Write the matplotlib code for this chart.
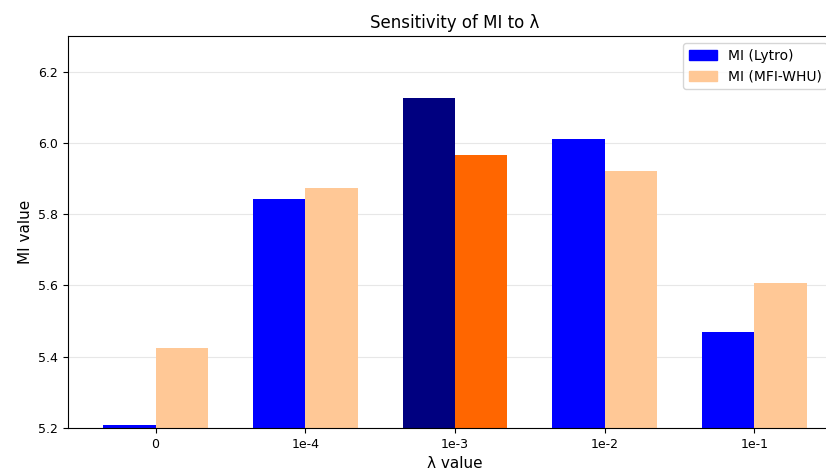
import matplotlib.pyplot as plt
import numpy as np
from matplotlib.patches import Patch

# lambda settings and MI scores for the two datasets
lambdas = ['0', '1e-4', '1e-3', '1e-2', '1e-1']
mi_lytro = [5.209, 5.842, 6.126, 6.011, 5.469]
mi_mfi = [5.424, 5.873, 5.966, 5.921, 5.607]
best_idx = 2

x = np.arange(len(lambdas))
width = 0.35

fig = plt.figure(figsize=(8.26, 4.75), dpi=100)
# axes run a little past the right edge of the canvas
ax = fig.add_axes([0.0823, 0.099, 0.937, 0.825])

lytro_colors = ['blue'] * len(lambdas)
mfi_colors = ['#ffc896'] * len(lambdas)
lytro_colors[best_idx] = '#000080'
mfi_colors[best_idx] = '#ff6600'

ax.bar(x - width / 2, mi_lytro, width, color=lytro_colors, label='MI (Lytro)')
ax.bar(x + width / 2, mi_mfi, width, color=mfi_colors, label='MI (MFI-WHU)')

ax.set_ylim(5.2, 6.3)
ax.set_xticks(x)
ax.set_xticklabels(lambdas, fontsize=9)
ax.tick_params(axis='y', labelsize=9)
ax.set_xlabel('λ value', fontsize=11)
ax.set_ylabel('MI value', fontsize=11)
ax.set_title('Sensitivity of MI to λ', fontsize=12)
ax.grid(axis='y', alpha=0.3)
ax.set_axisbelow(True)

# legend patches use the regular colours
handles = [Patch(color='blue', label='MI (Lytro)'),
           Patch(color='#ffc896', label='MI (MFI-WHU)')]
ax.legend(handles=handles, loc='upper right', bbox_to_anchor=(0.99, 1.0),
          fontsize=10)

fig.savefig('out.png', dpi=100)
